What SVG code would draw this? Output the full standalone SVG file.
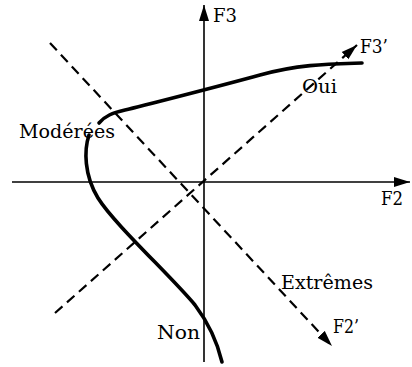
<svg xmlns="http://www.w3.org/2000/svg" width="412" height="367" viewBox="0 0 412 367">
<defs>
<style>
.axis{stroke:#000;stroke-width:1.6;fill:none}
.dash{stroke:#000;stroke-width:2.2;fill:none;stroke-dasharray:10 6}
.curve{stroke:#000;stroke-width:3.6;fill:none;stroke-linecap:round}
.lbl{font-family:"DejaVu Serif","Liberation Serif",serif;font-size:18px;fill:#000}
</style>
<marker id="arr" markerUnits="userSpaceOnUse" markerWidth="17" markerHeight="11" refX="16" refY="5.5" orient="auto">
<path d="M0,0.5 L16,5.5 L0,10.5 z" fill="#000"/>
</marker>
</defs>
<rect width="412" height="367" fill="#fff"/>
<g id="connectors">
<line id="axis-F3" class="axis" x1="204" y1="362" x2="204" y2="5" marker-end="url(#arr)"/>
<line id="axis-F2" class="axis" x1="12" y1="182" x2="410" y2="182" marker-end="url(#arr)"/>
<line id="axis-F3p" class="dash" x1="55" y1="313" x2="357" y2="45" marker-end="url(#arr)"/>
<line id="axis-F2p" class="dash" x1="50" y1="43" x2="332" y2="346" marker-end="url(#arr)"/>
</g>
<g id="curve">
<path class="curve" d="M99 123 C105 116,112 113,125 110 S220 86,260 75 S330 64,362 63"/>
<path class="curve" d="M89 135 C84 150,84 175,98 198 C115 225,170 275,195 305 C210 325,218 345,222 362"/>
</g>
<g id="label-F3"><text class="lbl" x="213" y="22" textLength="24" lengthAdjust="spacingAndGlyphs">F3</text></g>
<g id="label-F3p"><text class="lbl" x="360" y="53" textLength="28" lengthAdjust="spacingAndGlyphs">F3’</text></g>
<g id="label-Oui"><text class="lbl" x="302" y="93" textLength="35" lengthAdjust="spacingAndGlyphs">Oui</text></g>
<g id="label-Moderees"><text class="lbl" x="19" y="138" textLength="96" lengthAdjust="spacingAndGlyphs">Modérées</text></g>
<g id="label-F2"><text class="lbl" x="381" y="205" textLength="22" lengthAdjust="spacingAndGlyphs">F2</text></g>
<g id="label-Extremes"><text class="lbl" x="281" y="289" textLength="92" lengthAdjust="spacingAndGlyphs">Extrêmes</text></g>
<g id="label-F2p"><text class="lbl" x="333" y="333" textLength="26" lengthAdjust="spacingAndGlyphs">F2’</text></g>
<g id="label-Non"><text class="lbl" x="157" y="339" textLength="43" lengthAdjust="spacingAndGlyphs">Non</text></g>
</svg>
